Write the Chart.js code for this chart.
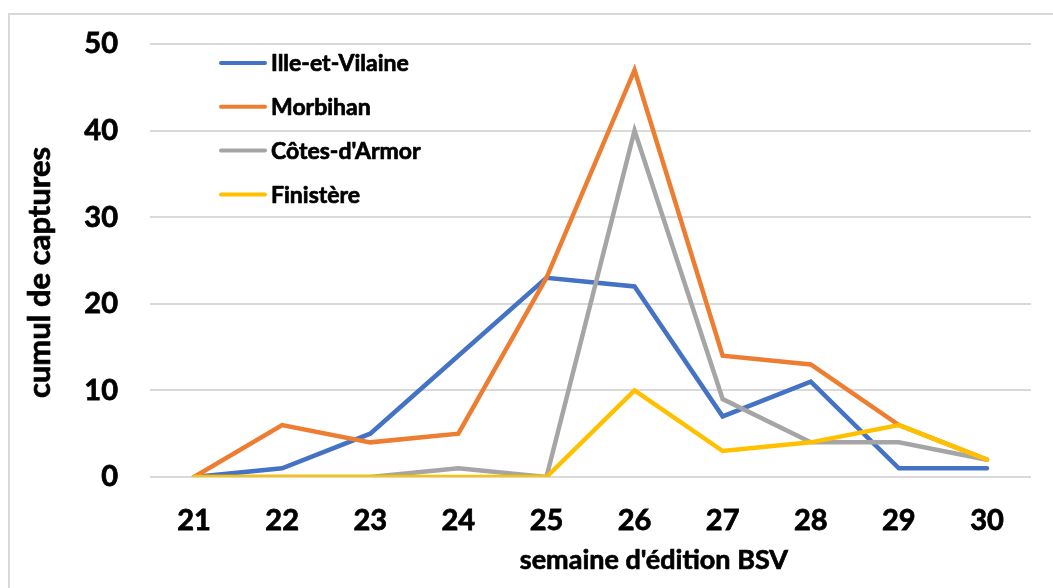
<!DOCTYPE html>
<html>
<head>
<meta charset="utf-8">
<script src="https://cdn.jsdelivr.net/npm/chart.js"></script>
<style>
  html, body { margin: 0; padding: 0; background: #fff; }
  #wrap { position: absolute; left: 0; top: 0; width: 1053px; height: 588px; }
  #frame { position: absolute; left: 8px; top: 13px; width: 1100px; height: 700px; border: 2px solid #d9d9d9; }
</style>
</head>
<body>
<div id="frame"></div>
<div id="wrap"><canvas id="chart"></canvas></div>
<script>
var weeks = ['21', '22', '23', '24', '25', '26', '27', '28', '29', '30'];
var illeEtVilaine = [0, 1, 5, 14, 23, 22, 7, 11, 1, 1];
var morbihan = [0, 6, 4, 5, 23, 47, 14, 13, 6, 2];
var cotesArmor = [0, 0, 0, 1, 0, 40, 9, 4, 4, 2];
var finistere = [0, 0, 0, 0, 0, 10, 3, 4, 6, 2];
var seriesNames = ['Ille-et-Vilaine', 'Morbihan', "Côtes-d'Armor", 'Finistère'];
var seriesColors = ['#4472c4', '#ed7d31', '#a5a5a5', '#ffc000'];
var yTicks = [0, 10, 20, 30, 40, 50];
var xTitle = "semaine d'édition BSV";
var yTitle = 'cumul de captures';

var FONT = 'Lato, "Open Sans", sans-serif';

// legend inside the plot (top-left) and the two axis titles, placed like the Excel original
var extras = {
  id: 'extras',
  afterDatasetsDraw: function(chart) {
    var ctx = chart.ctx;
    var area = chart.chartArea;
    var x0 = area.left + 69, y0 = area.top + 19, step = 43.8;
    ctx.save();
    ctx.fillStyle = '#000';
    ctx.strokeStyle = '#000';
    ctx.lineJoin = 'round';

    ctx.font = 'bold 23px ' + FONT;
    ctx.textBaseline = 'middle';
    ctx.lineCap = 'round';
    seriesNames.forEach(function(name, i){
      var y = y0 + i * step;
      ctx.lineWidth = 4;
      ctx.strokeStyle = seriesColors[i];
      ctx.beginPath();
      ctx.moveTo(x0 + 2, y);
      ctx.lineTo(x0 + 46, y);
      ctx.stroke();
      ctx.lineWidth = 0.7;
      ctx.strokeStyle = '#000';
      ctx.fillText(name, x0 + 52, y + 1);
      ctx.strokeText(name, x0 + 52, y + 1);
    });

    ctx.textAlign = 'center';
    ctx.font = 'bold 27px ' + FONT;
    var tx = area.left + (area.right - area.left) * 0.572;
    ctx.fillText(xTitle, tx, 560);
    ctx.strokeText(xTitle, tx, 560);

    ctx.translate(40, (area.top + area.bottom) / 2 + 12);
    ctx.rotate(-Math.PI / 2);
    ctx.font = 'bold 31px ' + FONT;
    ctx.fillText(yTitle, 0, 0);
    ctx.strokeText(yTitle, 0, 0);
    ctx.restore();
  }
};

var allSeries = [illeEtVilaine, morbihan, cotesArmor, finistere];

new Chart(document.getElementById('chart'), {
  type: 'line',
  data: {
    labels: weeks,
    datasets: allSeries.map(function(values, i){
      return {
        label: seriesNames[i],
        data: values,
        borderColor: seriesColors[i],
        backgroundColor: seriesColors[i],
        borderWidth: 4.5,
        borderCapStyle: 'round',
        borderJoinStyle: 'miter',
        pointRadius: 0,
        tension: 0,
        order: allSeries.length - i
      };
    })
  },
  options: {
    responsive: true,
    maintainAspectRatio: false,
    animation: false,
    layout: { padding: { left: 0, top: 44, right: 22, bottom: 0 } },
    plugins: {
      legend: { display: false },
      tooltip: { enabled: false }
    },
    scales: {
      x: {
        offset: true,
        grid: { display: false, drawTicks: false },
        border: { display: false },
        ticks: { color: '#000', padding: 26, textStrokeColor: '#000', textStrokeWidth: 0.8, font: { family: FONT, size: 29, weight: 'bold' }, maxRotation: 0 },
        afterFit: function(scale){ scale.height = 111; }
      },
      y: {
        min: 0,
        max: 50,
        afterBuildTicks: function(scale){ scale.ticks = yTicks.map(function(v){ return { value: v }; }); },
        grid: { color: '#d9d9d9', lineWidth: 2, drawTicks: false },
        border: { display: false },
        ticks: { color: '#000', padding: 32, textStrokeColor: '#000', textStrokeWidth: 0.8, font: { family: FONT, size: 29, weight: 'bold' } },
        afterFit: function(scale){
          scale.width = 150;
          scale.paddingTop = 0;
          scale.paddingBottom = 0;
        }
      }
    }
  },
  plugins: [extras]
});
</script>
</body>
</html>
